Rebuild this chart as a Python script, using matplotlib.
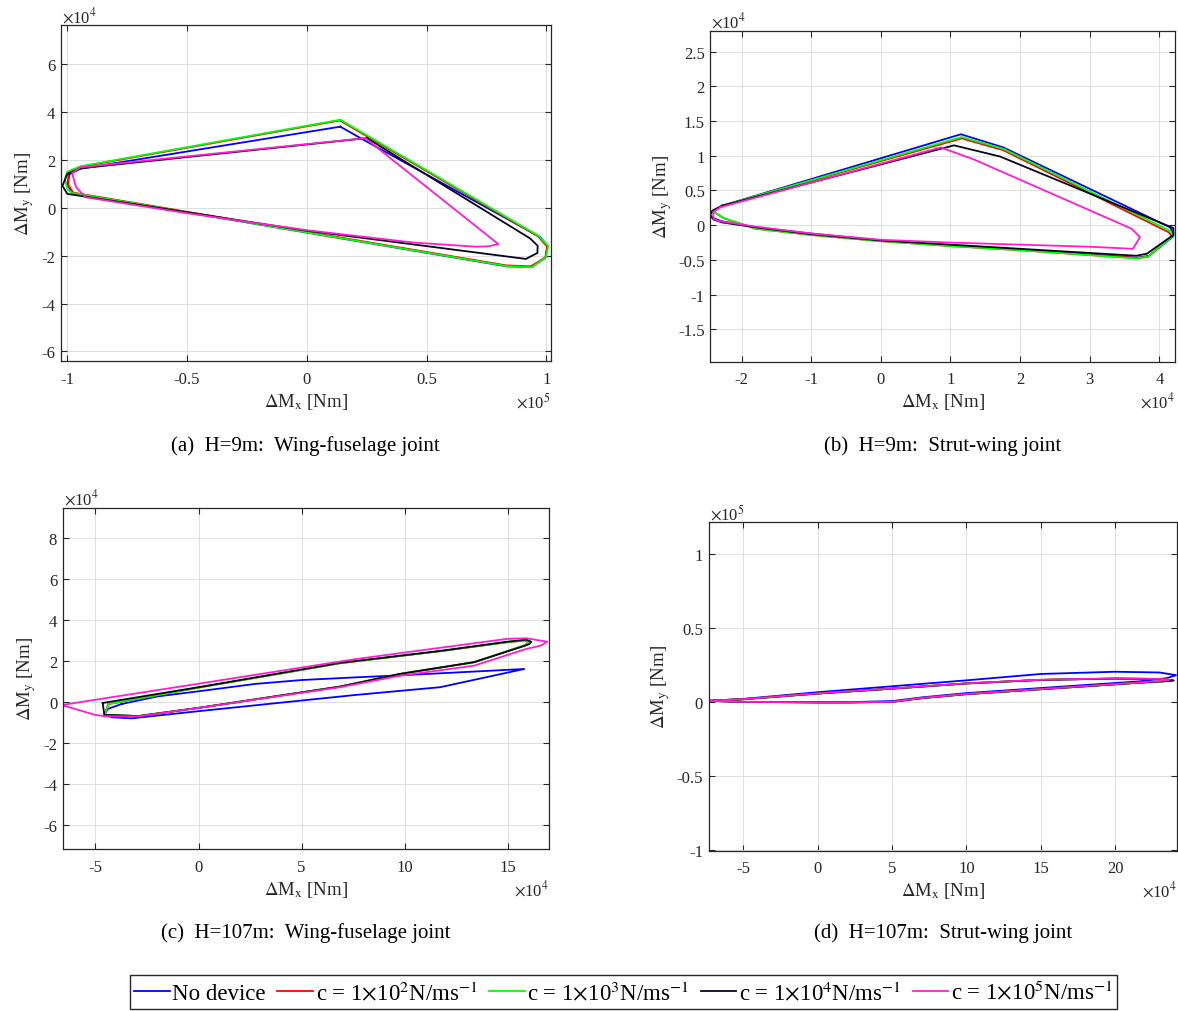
import numpy as np
import matplotlib
matplotlib.use("Agg")
import matplotlib.pyplot as plt
from matplotlib.ticker import FuncFormatter

plt.rcParams['font.family'] = ['Liberation Serif', 'DejaVu Serif']
plt.rcParams['mathtext.fontset'] = 'stix'

W, H = 1178, 1012

labels = ['No device',
          r'c = 1$\times$10$^{2}$N/ms$^{-1}$',
          r'c = 1$\times$10$^{3}$N/ms$^{-1}$',
          r'c = 1$\times$10$^{4}$N/ms$^{-1}$',
          r'c = 1$\times$10$^{5}$N/ms$^{-1}$']
colors = ['#0000ff', '#ff0000', '#00ff00', '#05051e', '#ff1dce']

# ---- (a) H=9m wing-fuselage joint: x in 1e5 Nm, y in 1e4 Nm
a_x_nodev = [0.14, 0.237, 0.975, 1.005, 0.998, 0.938, 0.835, -0.98, -1.0, -0.99, -0.945, 0.14]
a_y_nodev = [3.40, 2.85, -1.22, -1.58, -2.05, -2.47, -2.44, 0.63, 1.0, 1.42, 1.64, 3.40]
a_x_c2 = [0.138, 0.965, 1.003, 0.996, 0.935, 0.833, -0.975, -0.995, -0.995, -0.946, 0.138]
a_y_c2 = [3.66, -1.18, -1.60, -2.08, -2.44, -2.40, 0.64, 0.95, 1.48, 1.72, 3.66]
a_x_c3 = [0.14, 0.967, 1.008, 0.999, 0.939, 0.835, -0.98, -1.0, -1.01, -1.0, -0.944, 0.14]
a_y_c3 = [3.69, -1.16, -1.58, -2.06, -2.48, -2.43, 0.63, 0.79, 1.21, 1.52, 1.745, 3.69]
a_x_c4 = [0.251, 0.932, 0.964, 0.963, 0.915, 0.0, -1.0, -1.02, -1.0, -0.944, 0.251]
a_y_c4 = [2.92, -1.27, -1.58, -1.88, -2.13, -0.95, 0.59, 0.93, 1.42, 1.66, 2.92]
a_x_c5 = [0.244, 0.80, 0.76, 0.71, 0.45, 0.0, -0.5, -0.924, -0.963, -0.98, -0.944, 0.244]
a_y_c5 = [2.92, -1.51, -1.60, -1.62, -1.45, -0.93, -0.22, 0.45, 0.87, 1.46, 1.70, 2.92]

# ---- (b) H=9m strut-wing joint: x in 1e4 Nm, y in 1e4 Nm
b_x_nodev = [-2.28, 1.15, 1.76, 4.15, 4.2, 4.2, 3.85, 3.68, 3.0, 2.0, 1.0, 0.0, -1.0, -1.8, -2.3, -2.45, -2.45, -2.28]
b_y_nodev = [0.28, 1.31, 1.12, -0.03, -0.11, -0.16, -0.44, -0.47, -0.42, -0.35, -0.29, -0.22, -0.12, -0.03, 0.06, 0.12, 0.17, 0.28]
b_x_c2 = [-2.28, 1.16, 1.76, 4.13, 4.18, 3.83, 3.66, 3.0, 2.0, 1.0, 0.0, -1.0, -1.8, -2.25, -2.38, -2.38, -2.28]
b_y_c2 = [0.28, 1.25, 1.08, -0.10, -0.16, -0.46, -0.47, -0.43, -0.36, -0.30, -0.23, -0.14, -0.05, 0.10, 0.18, 0.22, 0.28]
b_x_c3 = [-2.28, 1.16, 1.76, 4.15, 4.2, 3.84, 3.67, 3.0, 2.0, 1.0, 0.0, -1.0, -1.8, -2.25, -2.38, -2.38, -2.28]
b_y_c3 = [0.28, 1.27, 1.10, -0.08, -0.15, -0.45, -0.48, -0.43, -0.36, -0.30, -0.23, -0.14, -0.05, 0.10, 0.18, 0.22, 0.28]
b_x_c4 = [-2.28, 1.05, 1.71, 4.10, 4.2, 4.2, 3.82, 3.67, 3.0, 2.0, 1.0, 0.0, -1.0, -1.8, -2.28, -2.4, -2.45, -2.42, -2.28]
b_y_c4 = [0.28, 1.15, 0.99, 0.0, -0.04, -0.14, -0.41, -0.44, -0.40, -0.34, -0.28, -0.22, -0.13, -0.03, 0.04, 0.08, 0.15, 0.21, 0.28]
b_x_c5 = [-2.3, 0.86, 1.33, 3.60, 3.72, 3.62, 3.0, 2.0, 1.0, 0.0, -1.0, -1.8, -2.33, -2.40, -2.41, -2.3]
b_y_c5 = [0.26, 1.12, 0.95, -0.05, -0.17, -0.34, -0.31, -0.28, -0.25, -0.21, -0.12, -0.02, 0.06, 0.09, 0.19, 0.26]

# ---- (c) H=107m wing-fuselage joint: x in 1e4 Nm, y in 1e4 Nm
c_x_nodev = [-3.73, -2.0, 0.0, 2.74, 5.0, 7.6, 10.0, 15.8, 11.72, 7.6, 0.0, -3.24, -4.2, -4.57, -4.4, -3.73]
c_y_nodev = [-0.09, 0.28, 0.53, 0.89, 1.08, 1.21, 1.32, 1.62, 0.73, 0.35, -0.44, -0.79, -0.74, -0.62, -0.33, -0.09]
c_x_c2 = [-4.38, 0.0, 6.87, 11.72, 14.96, 15.85, 16.0, 15.8, 13.36, 9.78, 6.87, 0.0, -2.92, -4.57, -4.38]
c_y_c2 = [-0.1, 0.71, 1.9, 2.49, 2.92, 3.01, 2.91, 2.77, 1.95, 1.38, 0.76, -0.28, -0.68, -0.62, -0.1]
c_x_c3 = [-4.36, 0.0, 6.87, 11.72, 14.96, 15.85, 16.02, 15.8, 13.36, 9.78, 6.87, 0.0, -2.92, -4.57, -4.36]
c_y_c3 = [-0.09, 0.71, 1.9, 2.49, 2.93, 3.02, 2.92, 2.77, 1.95, 1.38, 0.76, -0.28, -0.68, -0.62, -0.09]
c_x_c4 = [-4.65, 0.0, 6.87, 11.72, 14.96, 15.9, 16.14, 16.05, 15.85, 13.36, 9.78, 6.87, 0.0, -2.92, -4.57, -4.65]
c_y_c4 = [-0.04, 0.73, 1.92, 2.5, 2.95, 3.05, 2.95, 2.84, 2.76, 1.95, 1.38, 0.76, -0.28, -0.68, -0.62, -0.04]
c_x_c5 = [-6.64, 0.0, 7.6, 14.96, 15.9, 16.92, 16.6, 15.9, 13.36, 9.78, 6.87, 0.0, -2.92, -4.54, -5.02, -6.64]
c_y_c5 = [-0.14, 0.9, 2.1, 3.09, 3.12, 2.95, 2.76, 2.6, 1.78, 1.29, 0.73, -0.28, -0.69, -0.69, -0.62, -0.14]

# ---- (d) H=107m strut-wing joint: x in 1e4 Nm, y in 1e5 Nm
d_x_nodev = [-7.36, -5.0, 0.0, 5.0, 10.0, 15.0, 20.0, 23.0, 24.1, 23.5, 21.6, 15.0, 10.0, 7.0, 5.0, 2.0, 0.0, -5.0, -7.36]
d_y_nodev = [0.007, 0.02, 0.065, 0.105, 0.145, 0.188, 0.203, 0.198, 0.18, 0.16, 0.138, 0.093, 0.059, 0.03, 0.005, -0.002, -0.002, 0.0, 0.007]
d_x_c2 = [-7.36, -5.0, 0.0, 5.0, 10.0, 15.0, 20.0, 23.0, 23.9, 23.2, 21.6, 15.0, 10.0, 7.0, 5.0, 2.0, 0.0, -5.0, -7.36]
d_y_c2 = [0.007, 0.018, 0.056, 0.089, 0.124, 0.148, 0.157, 0.154, 0.145, 0.138, 0.129, 0.085, 0.052, 0.025, 0.0, -0.004, -0.004, 0.0, 0.007]
d_x_c3 = [-7.36, -5.0, 0.0, 5.0, 10.0, 15.0, 20.0, 23.0, 23.9, 23.2, 21.6, 15.0, 10.0, 7.0, 5.0, 2.0, 0.0, -5.0, -7.36]
d_y_c3 = [0.007, 0.018, 0.056, 0.089, 0.124, 0.148, 0.157, 0.154, 0.146, 0.138, 0.129, 0.085, 0.052, 0.025, 0.0, -0.004, -0.004, 0.0, 0.007]
d_x_c4 = [-7.36, -5.0, 0.0, 5.0, 10.0, 15.0, 20.0, 23.0, 23.95, 23.2, 21.6, 15.0, 10.0, 7.0, 5.0, 2.0, 0.0, -5.0, -7.36]
d_y_c4 = [0.007, 0.018, 0.056, 0.089, 0.124, 0.148, 0.157, 0.154, 0.144, 0.138, 0.129, 0.085, 0.052, 0.025, 0.0, -0.004, -0.004, 0.0, 0.007]
d_x_c5 = [-7.36, -5.0, 0.0, 5.0, 10.0, 15.0, 20.0, 23.0, 23.7, 23.0, 21.6, 15.0, 10.0, 7.0, 5.0, 2.0, 0.0, -5.0, -7.36]
d_y_c5 = [0.007, 0.018, 0.057, 0.09, 0.125, 0.149, 0.158, 0.155, 0.149, 0.14, 0.13, 0.086, 0.053, 0.026, 0.0, -0.004, -0.004, 0.0, 0.007]

a_xticks = [-1, -0.5, 0, 0.5, 1]
a_yticks = [-6, -4, -2, 0, 2, 4, 6]
b_xticks = [-2, -1, 0, 1, 2, 3, 4]
b_yticks = [-1.5, -1, -0.5, 0, 0.5, 1, 1.5, 2, 2.5]
c_xticks = [-5, 0, 5, 10, 15]
c_yticks = [-6, -4, -2, 0, 2, 4, 6, 8]
d_xticks = [-5, 0, 5, 10, 15, 20]
d_yticks = [-1, -0.5, 0, 0.5, 1]

captions = ['(a)  H=9m:  Wing-fuselage joint', '(b)  H=9m:  Strut-wing joint',
            '(c)  H=107m:  Wing-fuselage joint', '(d)  H=107m:  Strut-wing joint']

# panel boxes in pixels: left, right, top, bottom
panels = [
    dict(box=(60.8, 550.6, 26.0, 362.3), xlim=(-1.027, 1.018), ylim=(-6.41, 7.65),
         xs=[a_x_nodev, a_x_c2, a_x_c3, a_x_c4, a_x_c5], ys=[a_y_nodev, a_y_c2, a_y_c3, a_y_c4, a_y_c5],
         xt=a_xticks, yt=a_yticks, ex='5', ey='4', ylab_x=28.5, xlab_y=407, ey_y=22.7, cap_y=450.7),
    dict(box=(710.4, 1175.4, 32.3, 362.7), xlim=(-2.447, 4.229), ylim=(-1.966, 2.793),
         xs=[b_x_nodev, b_x_c2, b_x_c3, b_x_c4, b_x_c5], ys=[b_y_nodev, b_y_c2, b_y_c3, b_y_c4, b_y_c5],
         xt=b_xticks, yt=b_yticks, ex='4', ey='4', ylab_x=666.5, xlab_y=407.3, ey_y=28.0, cap_y=450.7),
    dict(box=(62.7, 549.2, 509.0, 850.0), xlim=(-6.59, 17.01), ylim=(-7.17, 9.48),
         xs=[c_x_nodev, c_x_c2, c_x_c3, c_x_c4, c_x_c5], ys=[c_y_nodev, c_y_c2, c_y_c3, c_y_c4, c_y_c5],
         xt=c_xticks, yt=c_yticks, ex='4', ey='4', ylab_x=29.8, xlab_y=895, ey_y=505, cap_y=938),
    dict(box=(708.6, 1176.9, 523.3, 851.7), xlim=(-7.34, 24.16), ylim=(-1.004, 1.211),
         xs=[d_x_nodev, d_x_c2, d_x_c3, d_x_c4, d_x_c5], ys=[d_y_nodev, d_y_c2, d_y_c3, d_y_c4, d_y_c5],
         xt=d_xticks, yt=d_yticks, ex='4', ey='5', ylab_x=664.8, xlab_y=895.7, ey_y=520.5, cap_y=938),
]

fmt = FuncFormatter(lambda v, p: '%g' % v)
tc = '#262626'

fig = plt.figure(figsize=(W / 100, H / 100), dpi=100)
handles = None
for i, p in enumerate(panels):
    l, r, t, b = p['box']
    ax = fig.add_axes([l / W, 1 - b / H, (r - l) / W, (b - t) / H])
    lines = []
    for x, y, col in zip(p['xs'], p['ys'], colors):
        ln, = ax.plot(x, y, color=col, lw=1.3)
        lines.append(ln)
    if handles is None:
        handles = lines
    ax.set_xlim(*p['xlim'])
    ax.set_ylim(*p['ylim'])
    ax.set_xticks(p['xt'])
    ax.set_yticks(p['yt'])
    ax.xaxis.set_major_formatter(fmt)
    ax.yaxis.set_major_formatter(fmt)
    ax.grid(True, color='#dedede', lw=0.7)
    ax.set_axisbelow(True)
    ax.tick_params(direction='in', top=True, right=True, length=4, width=0.8,
                   color=tc, labelcolor=tc, labelsize=12)
    ax.tick_params(axis='x', pad=7)
    ax.tick_params(axis='y', pad=4)
    for s in ax.spines.values():
        s.set_color(tc)
        s.set_linewidth(0.9)

    cx = (l + r) / 2
    cy = (t + b) / 2
    fig.text(cx / W, 1 - p['xlab_y'] / H, r'$\Delta$M$_{\rm x}$ [Nm]', ha='center', va='baseline',
             fontsize=13.5, color=tc)
    fig.text(p['ylab_x'] / W, 1 - cy / H, r'$\Delta$M$_{\rm y}$ [Nm]', ha='center', va='baseline',
             rotation=90, rotation_mode='anchor', fontsize=13.5, color=tc)
    fig.text(r / W, 1 - (p['xlab_y'] + 1) / H, r'$\times$10$^{%s}$' % p['ex'], ha='right', va='baseline',
             fontsize=12, color=tc)
    fig.text((l + 1) / W, 1 - p['ey_y'] / H, r'$\times$10$^{%s}$' % p['ey'], ha='left', va='baseline',
             fontsize=12, color=tc)
    fig.text(cx / W, 1 - p['cap_y'] / H, captions[i], ha='center', va='baseline', fontsize=15)

fig.legend(handles, labels, ncol=5, loc='center', bbox_to_anchor=(623.5 / W, 1 - 993 / H),
           frameon=True, fancybox=False, edgecolor=tc, framealpha=1, fontsize=16.5,
           handlelength=1.55, handletextpad=0.12, columnspacing=0.5, borderpad=0.2, borderaxespad=0)

fig.savefig('out.png', dpi=100)
